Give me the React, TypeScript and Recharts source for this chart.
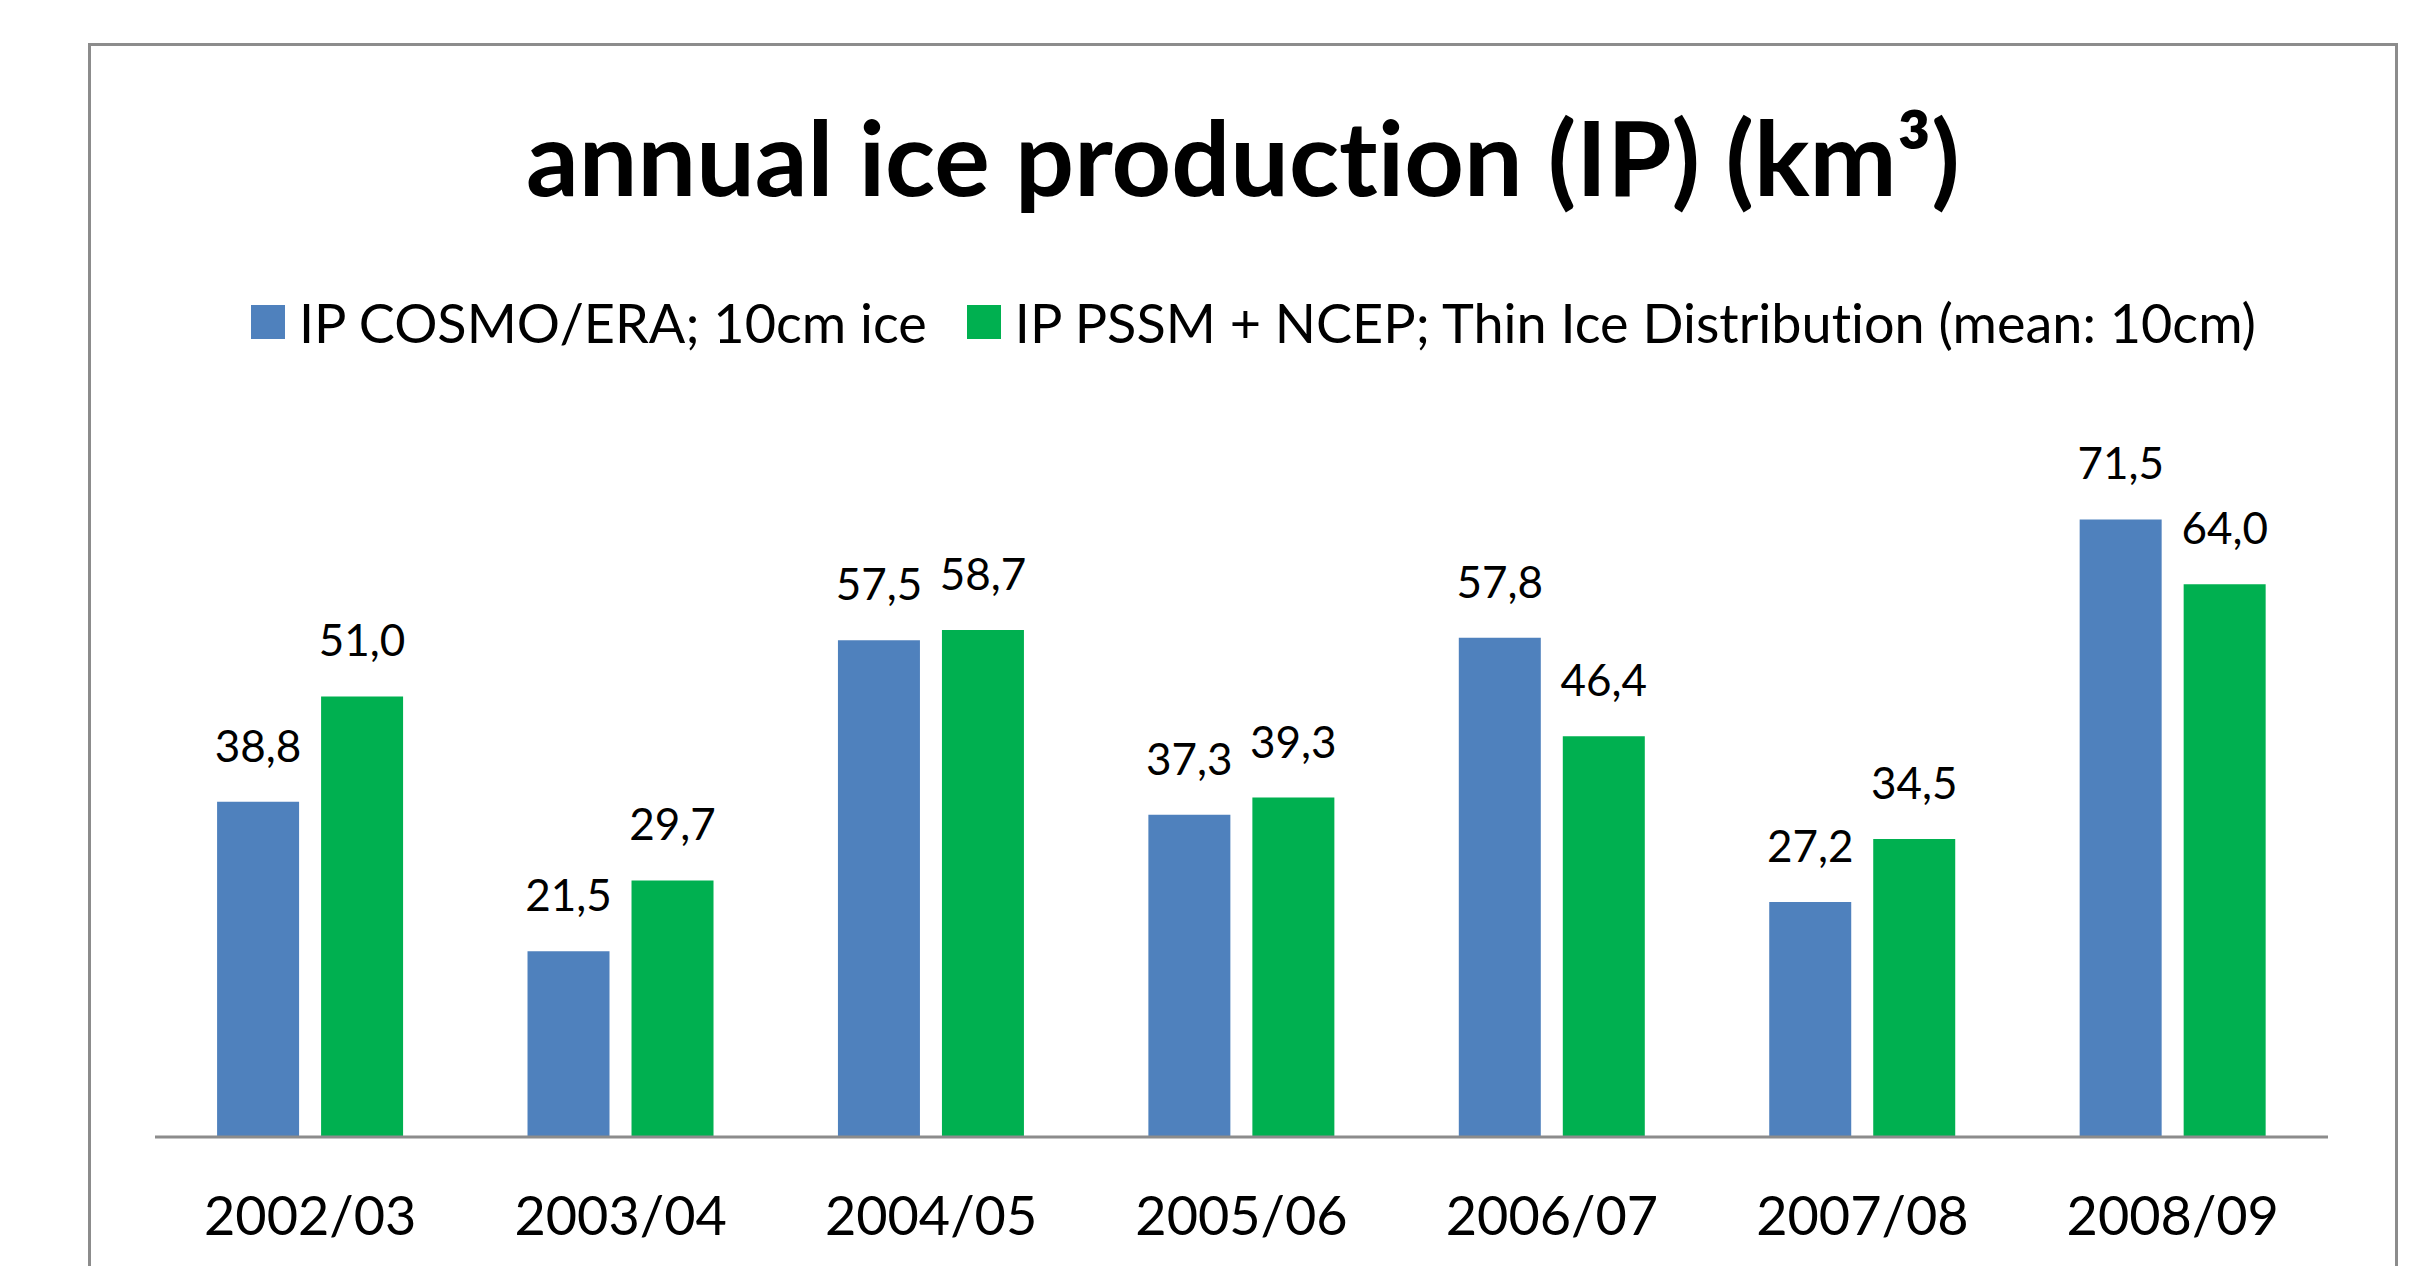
import { Bar, BarChart, LabelList, Legend, XAxis, YAxis } from "recharts"

const seasons = ["2002/03", "2003/04", "2004/05", "2005/06", "2006/07", "2007/08", "2008/09"]
const cosmoEra = [38.8, 21.5, 57.5, 37.3, 57.8, 27.2, 71.5]
const pssmNcep = [51.0, 29.7, 58.7, 39.3, 46.4, 34.5, 64.0]

const seriesNames = {
  cosmo: "IP COSMO/ERA; 10cm ice",
  pssm: "IP PSSM + NCEP; Thin Ice Distribution (mean: 10cm)",
}

const data = seasons.map((season, i) => ({
  season,
  cosmo: cosmoEra[i],
  pssm: pssmNcep[i],
}))

const FONT = "Lato, 'Open Sans', sans-serif"
const fmt = (v: any) => Number(v).toFixed(1).replace(".", ",")

function LegendContent({ payload }: any) {
  return (
    <div
      style={{
        display: "flex",
        justifyContent: "center",
        alignItems: "center",
        height: 60,
        fontFamily: FONT,
        fontSize: 54,
        fontVariantLigatures: "none",
        color: "#000",
        paddingLeft: 118,
      }}
    >
      {(payload || []).map((p: any) => (
        <div key={p.dataKey} style={{ display: "flex", alignItems: "center", marginRight: 40 }}>
          <span style={{ width: 34, height: 34, background: p.color, marginRight: 14, display: "inline-block" }} />
          <span style={{ whiteSpace: "nowrap" }}>{p.value}</span>
        </div>
      ))}
    </div>
  )
}

export default function App() {
  return (
    <div
      style={{
        position: "absolute",
        left: 0,
        top: 0,
        width: 2429,
        height: 1266,
        overflow: "hidden",
        background: "#fff",
        fontFamily: FONT,
      }}
    >
      <div
        style={{
          position: "absolute",
          left: 88,
          top: 43,
          width: 2304,
          height: 1300,
          border: "3px solid #8c8c8c",
        }}
      />
      <div
        style={{
          position: "absolute",
          left: 0,
          width: 2486,
          top: 104,
          textAlign: "center",
          fontSize: 104,
          lineHeight: "104px",
          fontWeight: 700,
          fontVariantLigatures: "none",
          color: "#000",
        }}
      >
        annual ice production (IP) (km³)
      </div>
      <BarChart
        width={2429}
        height={1266}
        data={data}
        margin={{ top: 446, right: 101, left: 155, bottom: 29 }}
        barCategoryGap="20%"
        barGap={22}
        style={{ position: "absolute", left: 0, top: 0 }}
      >
        <XAxis
          dataKey="season"
          height={100}
          tickLine={false}
          tickSize={0}
          tickMargin={60}
          axisLine={{ stroke: "#8c8c8c", strokeWidth: 3 }}
          tick={{ fontSize: 54, fill: "#000", fontFamily: FONT }}
        />
        <YAxis hide width={0} domain={[0, 80]} />
        <Legend
          layout="horizontal"
          verticalAlign="middle"
          content={<LegendContent />}
          wrapperStyle={{ top: 292, left: 0, width: 2429 }}
        />
        <Bar dataKey="cosmo" name={seriesNames.cosmo} fill="#4F81BD" isAnimationActive={false}>
          <LabelList
            dataKey="cosmo"
            position="top"
            offset={40}
            formatter={fmt}
            style={{ fontSize: 44, fill: "#000", fontFamily: FONT }}
          />
        </Bar>
        <Bar dataKey="pssm" name={seriesNames.pssm} fill="#00B050" isAnimationActive={false}>
          <LabelList
            dataKey="pssm"
            position="top"
            offset={40}
            formatter={fmt}
            style={{ fontSize: 44, fill: "#000", fontFamily: FONT }}
          />
        </Bar>
      </BarChart>
    </div>
  )
}
